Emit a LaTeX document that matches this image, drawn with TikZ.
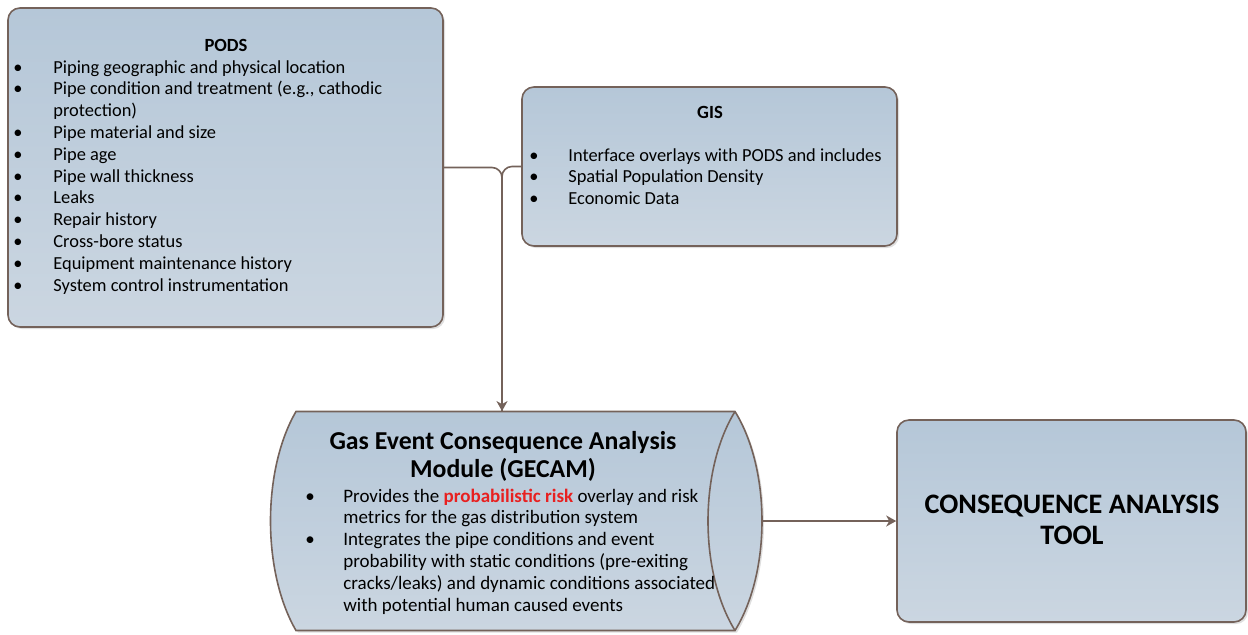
\documentclass[tikz,border=0pt]{standalone}
\usepackage{fontspec}
\setmainfont{Carlito}
\usepackage{xcolor}
\usetikzlibrary{shapes.geometric, arrows.meta, positioning, calc, shadows}
\definecolor{boxcolor}{RGB}{181,199,216}
\definecolor{boxlight}{RGB}{203,214,225}
\definecolor{edgecolor}{RGB}{116,98,90}
\definecolor{riskred}{RGB}{232,32,32}

\begin{document}
\begin{tikzpicture}[
    x=0.5pt, y=-0.5pt,
    panel/.style={rectangle, rounded corners=6pt, draw=edgecolor, line width=0.8pt,
        top color=boxcolor, bottom color=boxlight,
        drop shadow={opacity=0.25, shadow xshift=1pt, shadow yshift=-1pt}},
    drum/.style={draw=edgecolor, line width=0.8pt, top color=boxcolor, bottom color=boxlight,
        drop shadow={opacity=0.25, shadow xshift=1pt, shadow yshift=-1pt}},
    listtext/.style={anchor=north west, inner sep=0pt, align=left, font=\fontsize{9.2}{10.9}\selectfont},
    boxtitle/.style={inner sep=0pt, font=\fontsize{9.3}{10.9}\selectfont\bfseries},
    link/.style={draw=edgecolor, line width=0.8pt, rounded corners=5pt},
    >={Stealth[length=5pt, width=5.5pt, inset=1.5pt]}
]
\useasboundingbox (0,0) rectangle (1248,634);

% Source boxes
\node[panel, minimum width=217.5pt, minimum height=159.5pt] (pods) at (225.5,167.5) {};
\node[panel, minimum width=187.5pt, minimum height=79.5pt] (gis) at (709.5,166.5) {};

% Analysis module (drawn as a lying drum) and tool
\path[drum] (296,411.5) -- (735,411.5)
    .. controls (771,470) and (771,572) .. (735,630.5)
    -- (296,630.5)
    .. controls (262,572) and (262,470) .. cycle;
\draw[draw=edgecolor, line width=0.8pt] (735,411.5)
    .. controls (699,470) and (699,572) .. (735,630.5);
\node[minimum width=246pt, minimum height=109.5pt, inner sep=0pt] (gecam) at (516,521) {};
\node[panel, minimum width=174.5pt, minimum height=101pt] (tool) at (1071.5,521) {};

% Texts
\node[boxtitle] (podstitle) at (226,45) {PODS};
\node[listtext] (podslist) at (13,57.5) {\begin{tabular}{@{}p{20pt}@{}l@{}}
\textbullet & Piping geographic and physical location\\
\textbullet & Pipe condition and treatment (e.g., cathodic\\
 & protection)\\
\textbullet & Pipe material and size\\
\textbullet & Pipe age\\
\textbullet & Pipe wall thickness\\
\textbullet & Leaks\\
\textbullet & Repair history\\
\textbullet & Cross-bore status\\
\textbullet & Equipment maintenance history\\
\textbullet & System control instrumentation
\end{tabular}};

\node[boxtitle] (gistitle) at (710,112) {GIS};
\node[listtext] (gislist) at (529,145.5) {\begin{tabular}{@{}p{19.5pt}@{}l@{}}
\textbullet & Interface overlays with PODS and includes\\
\textbullet & Spatial Population Density\\
\textbullet & Economic Data
\end{tabular}};

\node[inner sep=0pt, align=center, font=\fontsize{12.9}{14}\selectfont\bfseries]
    (gecamtitle) at (503,456) {Gas Event Consequence Analysis\\Module (GECAM)};
\node[listtext, font=\fontsize{9.5}{10.9}\selectfont] (gecamlist) at (305,486.5) {\begin{tabular}{@{}p{19pt}@{}l@{}}
\textbullet & Provides the \textcolor{riskred}{\textbf{probabilistic risk}} overlay and risk\\
 & metrics for the gas distribution system\\
\textbullet & Integrates the pipe conditions and event\\
 & probability with static conditions (pre-exiting\\
 & cracks/leaks) and dynamic conditions associated\\
 & with potential human caused events
\end{tabular}};

\node[inner sep=0pt, align=center, font=\fontsize{14.1}{15.5}\selectfont\bfseries]
    (tooltext) at (1072,520) {CONSEQUENCE ANALYSIS\\TOOL};

% Connectors
\coordinate (drop) at (502,300);
\draw[link] (gis.west) -| (gecam.north -| drop);
\draw[link, ->] (pods.east) -| (gecam.north -| drop);
\draw[link, ->] (gecam.east) -- (tool.west);

\end{tikzpicture}
\end{document}
